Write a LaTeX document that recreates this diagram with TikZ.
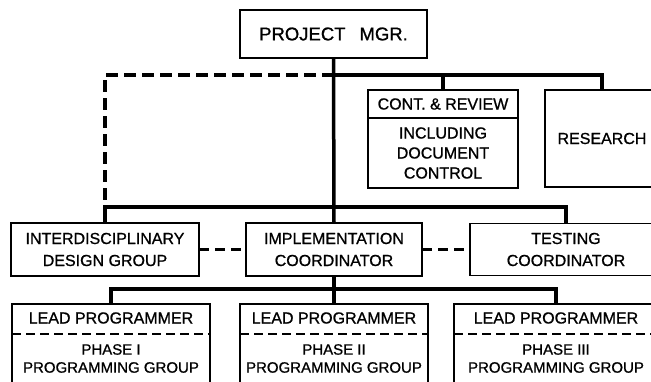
\documentclass[tikz,border=0pt]{standalone}
\usepackage{fontspec}
\setmainfont{Liberation Sans}[FakeBold=0.9]
\usetikzlibrary{positioning}

\tikzset{
  orgbox/.style={draw, line width=1.6pt, inner sep=0pt, outer sep=0pt, align=center,
    font=\fontsize{16}{20}\selectfont},
  lbl/.style={inner sep=0pt, align=center, font=\fontsize{16}{20}\selectfont},
  bus/.style={line width=3.5pt},
  dashbus/.style={line width=3.8pt, dash pattern=on 12pt off 6pt},
  link/.style={line width=3.5pt, dash pattern=on 10pt off 6pt},
  divider/.style={line width=1.3pt, dash pattern=on 9pt off 5pt},
}

\begin{document}
\begin{tikzpicture}[x=1pt,y=-1pt]
    \useasboundingbox (0,0) rectangle (651,382);
    \clip (0,0) rectangle (651,382);
    % top
    \node[orgbox, minimum width=187pt, minimum height=48pt, font=\fontsize{18.5}{20}\selectfont] (pm) at (333.5,34) {PROJECT\hspace{14pt}MGR.};
    \node[orgbox, minimum width=150pt, minimum height=28pt] (cont) at (443,104) {CONT.\ \& REVIEW};
    \node[orgbox, minimum width=150pt, minimum height=70pt, below=0pt of cont] (contbody) {INCLUDING\\DOCUMENT\\CONTROL};
    \node[orgbox, minimum width=114pt, minimum height=97pt] (research) at (602,138.5) {RESEARCH};
    % second row
    \node[orgbox, minimum width=188pt, minimum height=53pt, font=\fontsize{16}{22}\selectfont] (idg) at (105,249.5) {INTERDISCIPLINARY\\DESIGN GROUP};
    \node[orgbox, minimum width=176pt, minimum height=53pt, font=\fontsize{16}{22}\selectfont] (impl) at (334,249.5) {IMPLEMENTATION\\COORDINATOR};
    \node[orgbox, minimum width=192pt, minimum height=52pt, font=\fontsize{16}{22}\selectfont] (test) at (566,249.5) {TESTING\\COORDINATOR};
    % programming groups
    \foreach \n/\cx/\w/\ph in {1/111/198/I, 2/334/188/II, 3/556/204/III} {
        \node[orgbox, minimum width=\w pt, minimum height=95pt, anchor=north] (grp\n) at (\cx,304) {};
        \node[lbl] (lead\n) at ([yshift=-14pt]grp\n.north) {LEAD PROGRAMMER};
        \draw[divider] ([yshift=-30pt]grp\n.north west) -- ([yshift=-30pt]grp\n.north east);
        \node[lbl, font=\fontsize{15}{18}\selectfont] (phase\n) at ([yshift=-54.5pt]grp\n.north) {PHASE \ph\\PROGRAMMING GROUP};
    }
    % connectors
    \coordinate (topL) at (idg.north |- 0,75);
    \coordinate (midL) at (idg.north |- 0,207);
    \coordinate (lowL) at (grp1.north |- 0,289);
    \draw[dashbus] (pm.south |- topL) -- (topL) -- (midL);
    \draw[bus] (pm.south |- topL) -| (research.north);
    \draw[bus] (cont.north |- topL) -- (cont.north);
    \draw[bus] (pm.south) -- (impl.north);
    \draw[bus] (idg.north) -- (midL) -| (test.north);
    \draw[bus] (grp1.north) -- (lowL) -| (grp3.north);
    \draw[bus] (impl.south) -- (grp2.north);
    \draw[link] (idg) -- (impl);
    \draw[link] (impl) -- (test);
\end{tikzpicture}
\end{document}
